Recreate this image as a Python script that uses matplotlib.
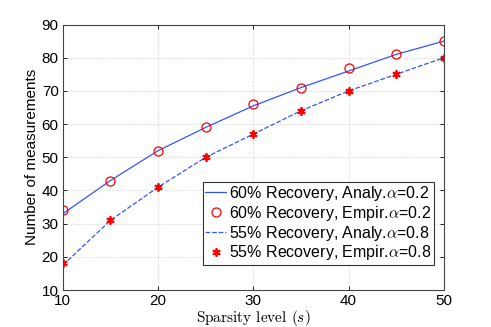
import matplotlib
matplotlib.use("Agg")
import matplotlib.pyplot as plt

sparsity = [10, 15, 20, 25, 30, 35, 40, 45, 50]
analy_02 = [33, 43, 52, 59, 65.5, 71, 76, 81, 85]
empir_02 = [34, 43, 52, 59, 66, 71, 77, 81, 85]
analy_08 = [17.5, 31, 41, 50, 57, 64, 70, 75, 80]
empir_08 = [18, 31, 41, 50, 57, 64, 70, 75, 80]

plt.rcParams['font.family'] = ['Liberation Sans', 'DejaVu Sans']
plt.rcParams['mathtext.fontset'] = 'cm'

fig = plt.figure(figsize=(4.91, 3.27), dpi=100)
ax = fig.add_axes([0.128, 0.113, 0.776, 0.812])

blue = '#3355ff'
ax.plot(sparsity, analy_02, '-', color=blue, lw=0.9, label=r'60% Recovery, Analy.$\alpha$=0.2')
ax.plot(sparsity, empir_02, 'o', color='red', mfc='none', ms=6.5, mew=0.9,
        label=r'60% Recovery, Empir.$\alpha$=0.2')
ax.plot(sparsity, analy_08, '--', color=blue, lw=0.9, label=r'55% Recovery, Analy.$\alpha$=0.8')
# matlab style asterisk marker
ax.plot(sparsity, empir_08, marker=(6, 2, 0), ls='none', color='red', ms=6, mew=1.3,
        label=r'55% Recovery, Empir.$\alpha$=0.8')

ax.set_xlim(10, 50)
ax.set_ylim(10, 90)
ax.set_xticks(range(10, 51, 10))
ax.set_yticks(range(10, 91, 10))
ax.tick_params(direction='in', top=True, right=True, labelsize=11, length=3, width=0.6, pad=3)
ax.grid(True, linestyle=':', color='#d0d0d0', lw=0.7)
for s in ax.spines.values():
    s.set_color('#444444')
    s.set_linewidth(0.8)

ax.set_ylabel('Number of measurements', fontsize=11, labelpad=2)
ax.set_xlabel(r'Sparsity level ($s$)', fontsize=11, family='cmr10', labelpad=0)

leg = ax.legend(loc='lower right', bbox_to_anchor=(0.884, 0.19), bbox_transform=fig.transFigure,
                fontsize=11.5, handlelength=1.3, handletextpad=0.2, borderpad=0.15,
                labelspacing=0.05, borderaxespad=0, fancybox=False, framealpha=1)
leg.get_frame().set_edgecolor('#333333')
leg.get_frame().set_linewidth(0.8)

fig.savefig('out.png', dpi=100)
